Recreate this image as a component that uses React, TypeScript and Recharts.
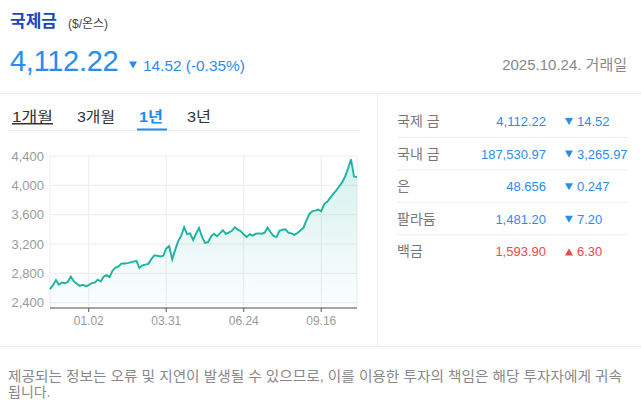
import { AreaChart, Area, XAxis, YAxis, CartesianGrid } from 'recharts';

const FONT = '"Liberation Sans", Arial, "Noto Sans CJK KR", sans-serif';
const BLUE = '#2b8cf0';
const RED = '#f04848';

const dates = [
  '11.14', '11.18', '11.21', '11.25', '11.29', '12.03', '12.06', '12.10', '12.13', '12.17', '12.20', '12.24', '12.27', '01.02',
  '01.06', '01.09', '01.13', '01.16', '01.20', '01.23', '01.27', '01.30', '02.03', '02.06', '02.10', '02.13', '02.17', '02.20',
  '02.24', '02.27', '03.03', '03.06', '03.10', '03.13', '03.17', '03.20', '03.24', '03.26', '03.28', '03.31',
  '04.03', '04.07', '04.10', '04.14', '04.17', '04.21', '04.24', '04.28', '05.01', '05.05', '05.08', '05.12', '05.15', '05.19',
  '05.22', '05.26', '05.29', '06.02', '06.05', '06.09', '06.12', '06.16', '06.18', '06.20', '06.23', '06.24',
  '06.27', '07.01', '07.03', '07.07', '07.10', '07.14', '07.17', '07.21', '07.24', '07.28', '07.31', '08.04', '08.07', '08.11',
  '08.14', '08.18', '08.21', '08.25', '08.28', '09.01', '09.04', '09.08', '09.10', '09.12', '09.15', '09.16',
  '09.19', '09.22', '09.25', '09.29', '10.02', '10.06', '10.09', '10.13', '10.16', '10.20', '10.22', '10.24',
];

const prices = [
  2585, 2640, 2710, 2645, 2675, 2665, 2685, 2755, 2690, 2660, 2630, 2645, 2625, 2640,
  2668, 2673, 2715, 2690, 2755, 2775, 2750, 2840, 2880, 2895, 2935, 2935, 2940, 2950,
  2960, 2970, 2875, 2910, 2920, 2930, 2995, 3045, 3040, 3030, 3040, 3140,
  3170, 2990, 3120, 3240, 3310, 3430, 3335, 3345, 3255, 3340, 3420, 3300, 3215, 3225,
  3300, 3340, 3305, 3345, 3390, 3340, 3355, 3380, 3428, 3395, 3375, 3330,
  3295, 3335, 3315, 3340, 3345, 3340, 3355, 3425, 3360, 3310, 3295, 3380, 3395, 3400,
  3355, 3345, 3325, 3350, 3385, 3420, 3520, 3610, 3645, 3655, 3670, 3645,
  3745, 3775, 3830, 3880, 3930, 3985, 4040, 4120, 4230, 4355, 4120, 4112,
];

const yTicks = [2400, 2800, 3200, 3600, 4000, 4400];
const xTickLabels = ['01.02', '03.31', '06.24', '09.16'];

const tabs = ['1개월', '3개월', '1년', '3년'];
const tabX = [12, 77, 139, 187];
const tabWidths = [41, 38, 24, 24];

const quoteNames = ['국제 금', '국내 금', '은', '팔라듐', '백금'];
const quoteValues = ['4,112.22', '187,530.97', '48.656', '1,481.20', '1,593.90'];
const quoteChanges = ['14.52', '3,265.97', '0.247', '7.20', '6.30'];
const quoteUp = [false, false, false, false, true];

const chartData = prices.map((price, i) => ({ i, date: dates[i], price }));
const xTicks = xTickLabels.map((d) => dates.indexOf(d));

function Triangle({ x, cy, up, color }: { x: number; cy: number; up: boolean; color: string }) {
  const pts = up
    ? `${x},${cy + 3.5} ${x + 8},${cy + 3.5} ${x + 4},${cy - 3.5}`
    : `${x},${cy - 3.5} ${x + 8},${cy - 3.5} ${x + 4},${cy + 3.5}`;
  return <polygon points={pts} fill={color} />;
}

function Header() {
  return (
    <svg width={641} height={406} style={{ position: 'absolute', left: 0, top: 0 }} fontFamily={FONT}>
      <text x={10} y={27} fontSize={17} fontWeight="bold" fill="#1747c0">국제금</text>
      <text x={68} y={28} fontSize={12} fill="#444">($/온스)</text>
      <text x={10} y={71} fontSize={29} letterSpacing={-0.3} fill={BLUE}>4,112.22</text>
      <Triangle x={129} cy={65} up={false} color={BLUE} />
      <text x={143} y={71} fontSize={15.4} fill={BLUE}>14.52 (-0.35%)</text>
      <text x={627} y={70} fontSize={15} fill="#888" textAnchor="end">2025.10.24. 거래일</text>

      <line x1={0} y1={93.5} x2={641} y2={93.5} stroke="#eeeeee" />
      <line x1={0} y1={346.5} x2={641} y2={346.5} stroke="#eeeeee" />
      <line x1={377.5} y1={94} x2={377.5} y2={346} stroke="#eeeeee" />

      {tabs.map((t, k) => (
        <text
          key={t}
          x={tabX[k]}
          y={122}
          fontSize={15}
          textLength={tabWidths[k]}
          lengthAdjust="spacingAndGlyphs"
          fontWeight={k === 2 ? 'bold' : 'normal'}
          fill={k === 2 ? '#1a8cf5' : '#333'}
          style={k === 0 ? { textDecoration: 'underline' } : undefined}
        >
          {t}
        </text>
      ))}
      <line x1={8} y1={130.5} x2={360} y2={130.5} stroke="#eeeeee" />
      <rect x={137} y={128.5} width={30} height={2} fill="#1a8cf5" />

      {quoteNames.map((name, k) => {
        const base = 126 + k * 32.6;
        const color = quoteUp[k] ? RED : BLUE;
        return (
          <g key={name}>
            <text x={397} y={base} fontSize={14} fill="#777">{name}</text>
            <text x={546} y={base} fontSize={13} fill={color} textAnchor="end">{quoteValues[k]}</text>
            <Triangle x={565} cy={base - 4.5} up={quoteUp[k]} color={color} />
            <text x={577} y={base} fontSize={13} fill={color}>{quoteChanges[k]}</text>
            {k < quoteNames.length - 1 && (
              <line x1={397} y1={137.5 + k * 32.4} x2={628} y2={137.5 + k * 32.4} stroke="#eeeeee" />
            )}
          </g>
        );
      })}

      <text x={8} y={381} fontSize={14} fill="#888" textLength={614} lengthAdjust="spacingAndGlyphs">
        제공되는 정보는 오류 및 지연이 발생될 수 있으므로, 이를 이용한 투자의 책임은 해당 투자자에게 귀속
      </text>
      <text x={8} y={397} fontSize={14} fill="#888">됩니다.</text>
    </svg>
  );
}

export default function App() {
  return (
    <div style={{ position: 'absolute', left: 0, top: 0, width: 641, height: 406, background: '#fff', fontFamily: FONT }}>
      <Header />
      <div style={{ position: 'absolute', left: 0, top: 140 }}>
        <AreaChart width={360} height={200} data={chartData} margin={{ top: 16, right: 3, bottom: 0, left: 0 }}>
          <defs>
            <linearGradient id="goldFill" x1="0" y1="0" x2="0" y2="1">
              <stop offset="0%" stopColor="#1fb5a3" stopOpacity={0.32} />
              <stop offset="100%" stopColor="#1fb5a3" stopOpacity={0.02} />
            </linearGradient>
          </defs>
          <CartesianGrid stroke="#ececec" />
          <XAxis
            dataKey="i"
            type="number"
            domain={[0, prices.length - 1]}
            ticks={xTicks}
            interval={0}
            tickFormatter={(v: number) => dates[v]}
            height={32}
            stroke="#555"
            tickSize={4}
            tickMargin={4}
            tick={{ fontSize: 12, fill: '#999', fontFamily: FONT }}
          />
          <YAxis
            domain={[2328, 4400]}
            ticks={yTicks}
            width={50}
            axisLine={false}
            tickLine={false}
            tickSize={4}
            tickMargin={2}
            tick={{ fontSize: 13, fill: '#9a9a9a', fontFamily: FONT }}
            tickFormatter={(v: number) => v.toLocaleString('en-US')}
          />
          <Area
            type="linear"
            dataKey="price"
            stroke="#1ab4a0"
            strokeWidth={1.9}
            fill="url(#goldFill)"
            dot={false}
            activeDot={false}
            isAnimationActive={false}
          />
        </AreaChart>
      </div>
    </div>
  );
}
